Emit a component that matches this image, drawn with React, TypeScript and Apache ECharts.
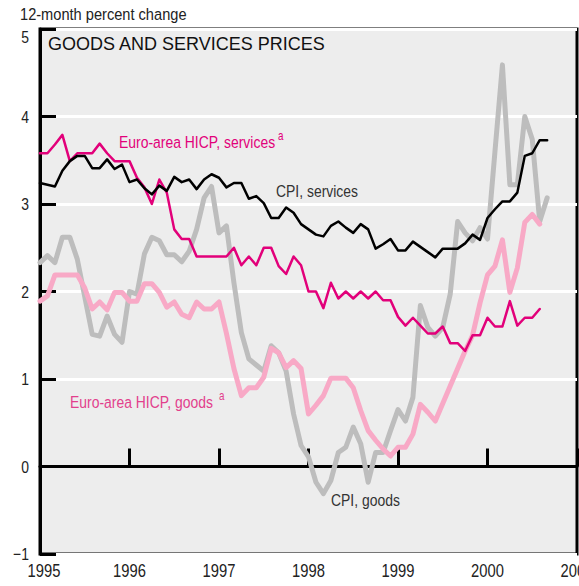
import React, { useEffect, useRef } from 'react';
import * as echarts from 'echarts';

const START_YEAR = 1995;
const X_MIN = 1995;
const X_MAX = 2001;
const Y_MIN = -1;
const Y_MAX = 5;
const X_TICKS = [1995, 1996, 1997, 1998, 1999, 2000, 2001];
const Y_TICKS = [-1, 0, 1, 2, 3, 4, 5];

// Monthly values, starting January 1995
const cpiServices = [
  3.24, 3.22, 3.2, 3.38, 3.49, 3.55, 3.55, 3.41, 3.41, 3.51, 3.4, 3.45,
  3.25, 3.28, 3.18, 3.11, 3.21, 3.15, 3.31, 3.25, 3.28, 3.17, 3.28, 3.34,
  3.3, 3.19, 3.24, 3.24, 3.06, 3.09, 3.01, 2.84, 2.84, 2.96, 2.9, 2.77,
  2.71, 2.65, 2.63, 2.75, 2.8, 2.73, 2.67, 2.77, 2.71, 2.49, 2.54, 2.6,
  2.47, 2.47, 2.57, 2.51, 2.45, 2.39, 2.49, 2.49, 2.49, 2.55, 2.65, 2.59,
  2.84, 2.94, 3.03, 3.03, 3.13, 3.55, 3.58, 3.73, 3.73,
];
const hicpServices = [
  3.58, 3.58, 3.68, 3.79, 3.49, 3.58, 3.58, 3.58, 3.69, 3.58, 3.49, 3.49,
  3.49, 3.3, 3.19, 3.0, 3.28, 3.13, 2.71, 2.6, 2.6, 2.4, 2.4, 2.4,
  2.4, 2.4, 2.5, 2.3, 2.4, 2.3, 2.5, 2.5, 2.29, 2.2, 2.4, 2.3,
  2.0, 2.0, 1.81, 2.1, 1.92, 2.0, 1.92, 2.0, 1.92, 2.0, 1.9, 1.9,
  1.71, 1.61, 1.7, 1.61, 1.52, 1.52, 1.6, 1.41, 1.41, 1.32, 1.5, 1.5,
  1.7, 1.6, 1.6, 1.89, 1.61, 1.7, 1.7, 1.8,
];
const hicpGoods = [
  1.89, 1.95, 2.19, 2.19, 2.19, 2.19, 2.04, 1.8, 1.88, 1.79, 1.99, 1.99,
  1.89, 1.89, 2.09, 2.09, 1.99, 1.82, 1.88, 1.74, 1.7, 1.88, 1.8, 1.8,
  1.88, 1.52, 1.12, 0.81, 0.9, 0.9, 1.02, 1.35, 1.3, 1.13, 1.21, 1.12,
  0.6, 0.7, 0.81, 1.01, 1.01, 1.01, 0.9, 0.64, 0.41, 0.3, 0.2, 0.12,
  0.22, 0.22, 0.37, 0.71, 0.62, 0.52, 0.72, 0.92, 1.12, 1.32, 1.5, 1.87,
  2.19, 2.29, 2.59, 1.99, 2.27, 2.79, 2.88, 2.77,
];
const cpiGoods = [
  2.33, 2.41, 2.33, 2.62, 2.62, 2.37, 1.94, 1.51, 1.49, 1.72, 1.51, 1.42,
  2.0, 1.97, 2.43, 2.62, 2.58, 2.42, 2.42, 2.34, 2.46, 2.71, 3.07, 3.2,
  2.67, 2.75, 2.1, 1.53, 1.23, 1.16, 1.09, 1.38, 1.3, 1.09, 0.6, 0.24,
  0.11, -0.18, -0.31, -0.16, 0.16, 0.22, 0.45, 0.26, -0.18, 0.16, 0.16, 0.41,
  0.65, 0.52, 0.79, 1.84, 1.59, 1.49, 1.59, 1.97, 2.8, 2.67, 2.58, 2.73,
  2.6, 3.6, 4.59, 3.22, 3.22, 4.0, 3.74, 2.8, 3.07,
];

const FONT = "'Liberation Sans', Arial, sans-serif";
const NARROW_SCALE = 0.82;

const toPairs = (vals: number[]) => vals.map((v, i) => [START_YEAR + i / 12, v]);

export default function App() {
  const ref = useRef<HTMLDivElement>(null);

  useEffect(() => {
    document.body.style.margin = '0';
    const chart = echarts.init(ref.current!, undefined, { renderer: 'svg' });
    const lineSeries = (name: string, vals: number[], color: string, width: number, z: number) => ({
      type: 'line',
      name,
      data: toPairs(vals),
      showSymbol: false,
      symbol: 'none',
      z,
      lineStyle: { color, width, join: 'round', cap: 'round' },
    });
    const txt = (
      text: string,
      x: number,
      y: number,
      color: string,
      size: number,
      align = 'left',
      scale = NARROW_SCALE
    ) => ({
      type: 'text',
      x,
      y,
      scaleX: scale,
      z: 100,
      style: {
        text,
        fill: color,
        fontSize: size,
        fontFamily: FONT,
        align,
        verticalAlign: 'middle',
        textAlign: align,
        textVerticalAlign: 'middle',
      },
    });
    chart.setOption({
      animation: false,
      grid: {
        left: 40,
        right: 2,
        top: 29,
        bottom: 32,
        show: true,
        backgroundColor: '#ededed',
        borderColor: '#000',
        borderWidth: 3,
      },
      xAxis: {
        type: 'value',
        min: X_MIN,
        max: X_MAX,
        interval: 1,
        axisLine: { show: true, lineStyle: { color: '#000', width: 3 } },
        axisTick: { show: true, inside: true, length: 18, lineStyle: { color: '#000', width: 3 } },
        splitLine: { show: false },
        axisLabel: { show: false },
      },
      yAxis: {
        type: 'value',
        min: Y_MIN,
        max: Y_MAX,
        interval: 1,
        axisLine: { show: true, lineStyle: { color: '#000', width: 3 } },
        axisTick: { show: true, inside: true, length: 16, lineStyle: { color: '#000', width: 3 } },
        splitLine: { show: true, lineStyle: { color: '#ffffff', width: 3 } },
        axisLabel: { show: false },
      },
      series: [
        lineSeries('CPI, goods', cpiGoods, '#bdbdbd', 5, 1),
        lineSeries('Euro-area HICP, goods', hicpGoods, '#f8a9c6', 5, 2),
        lineSeries('Euro-area HICP, services', hicpServices, '#e2007a', 2.5, 3),
        lineSeries('CPI, services', cpiServices, '#000000', 2.5, 4),
      ],
    });

    // Axis labels placed through the chart's own scales
    const axisTexts: any[] = [];
    X_TICKS.forEach((yr) => {
      const [px, py] = chart.convertToPixel({ gridIndex: 0 }, [yr, Y_MIN]) as number[];
      const shift = yr === X_MIN ? 4 : 0;
      axisTexts.push(txt(String(yr), px + shift, py + 16, '#222', 18, 'center'));
    });
    Y_TICKS.forEach((v) => {
      const [px, py] = chart.convertToPixel({ gridIndex: 0 }, [X_MIN, v]) as number[];
      const shift = v === Y_MAX ? 8 : 0;
      const label = v < 0 ? '\u2212' + Math.abs(v) : String(v);
      axisTexts.push(txt(label, px - 11, py + shift, '#222', 17, 'right'));
    });

    chart.setOption({
      graphic: [
        txt('12-month percent change', 20, 14, '#222', 17, 'left', 0.86),
        txt('GOODS AND SERVICES PRICES', 48, 44, '#111', 18, 'left', 1),
        txt('Euro-area HICP, services', 119, 142, '#e2007a', 17),
        txt('a', 278, 136, '#e2007a', 12),
        txt('CPI, services', 276, 191, '#333', 17),
        txt('Euro-area HICP, goods', 70, 402, '#e2408c', 17),
        txt('a', 219, 396, '#e2408c', 12),
        txt('CPI, goods', 331, 500, '#333', 17),
        ...axisTexts,
      ],
    });
    return () => chart.dispose();
  }, []);

  return (
    <div
      ref={ref}
      style={{ position: 'absolute', left: 0, top: 0, width: 579, height: 586 }}
    />
  );
}
